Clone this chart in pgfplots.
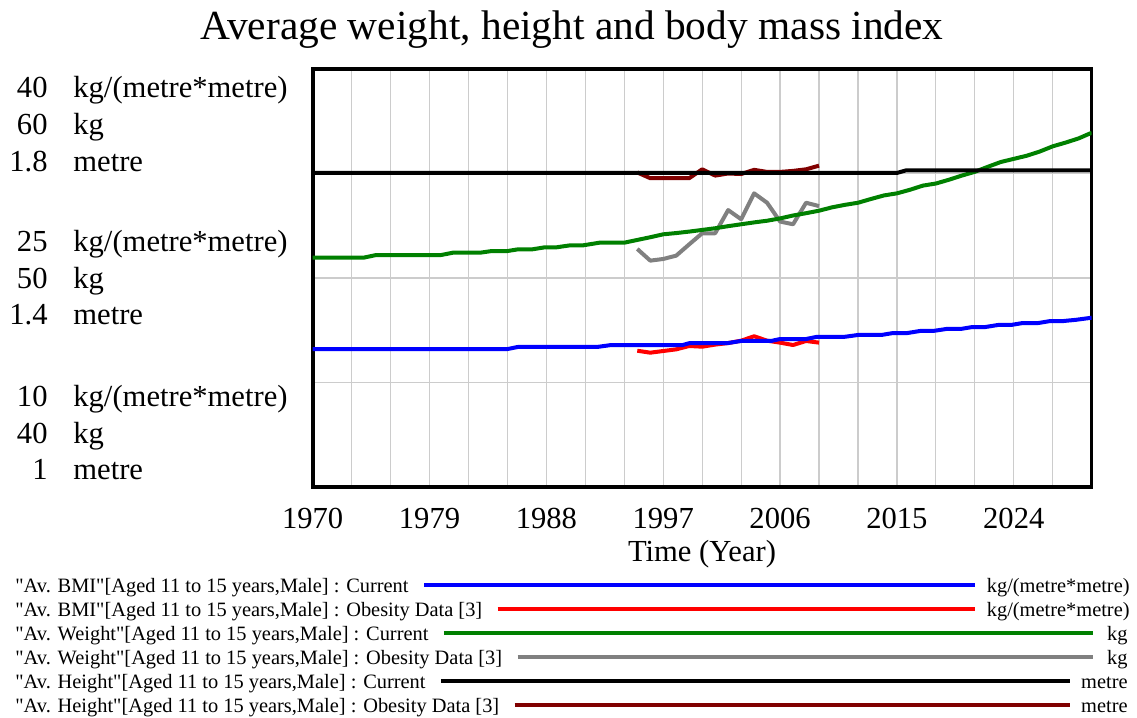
\documentclass[border=0pt]{standalone}
\usepackage{fontspec}
\setmainfont{Liberation Serif}[Ligatures=TeXOff]
\usepackage{pgfplots}
\pgfplotsset{compat=1.18}

\definecolor{gridgray}{RGB}{204,204,204}
\definecolor{vdarkred}{RGB}{128,0,0}
\definecolor{vgreen}{RGB}{0,128,0}
\definecolor{vgray}{RGB}{128,128,128}
\definecolor{vblue}{RGB}{0,0,255}
\definecolor{vred}{RGB}{255,0,0}

\newcommand{\tickfont}{\fontsize{15.3}{18}\selectfont}
\newcommand{\legfont}{\fontsize{10.2}{12}\selectfont}
\newcommand{\q}{\symbol{34}}

\pgfplotsset{
  myaxis/.style={
    at={(156.35pt,115.5pt)}, anchor=south west, scale only axis,
    width=389.5pt, height=209pt, xmin=1970, xmax=2030,
  },
  dline/.style={line width=2pt, line join=round, no markers},
}

\begin{document}
\begin{tikzpicture}[x=0.5pt,y=0.5pt]
\useasboundingbox (0,0) rectangle (1137,718);

% ---------------- BMI axis (with grid and frame) ----------------
\begin{axis}[myaxis, ymin=10, ymax=40,
  xtick={1970,1973,...,2030},
  xticklabels={1970,,,1979,,,1988,,,1997,,,2006,,,2015,,,2024,,,},
  ytick={10,17.5,25,32.5,40}, yticklabels={},
  grid=major, major grid style={gridgray, line width=0.6pt},
  axis line style={line width=1.8pt},
  major tick length=0pt,
  xticklabel style={font=\tickfont, anchor=base, yshift=-21pt},
]
\addplot[dline, vred] coordinates {
(1995,19.78) (1996,19.64) (1997,19.76) (1998,19.88) (1999,20.12) (2000,20.07)
(2001,20.22) (2002,20.33) (2003,20.50) (2004,20.82) (2005,20.50) (2006,20.36)
(2007,20.19) (2008,20.48) (2009,20.36)};
\addplot[dline, vblue] coordinates {
(1970,19.90) (1985,19.90) (1985.8,20.05) (1991.9,20.05) (1993,20.19) (1998.5,20.19)
(1999,20.32) (2001.9,20.32) (2003,20.48) (2005.3,20.48) (2006,20.62) (2008,20.62)
(2008.8,20.77) (2010.9,20.77) (2012,20.91) (2013.8,20.91) (2014.7,21.05) (2015.8,21.05)
(2016.8,21.20) (2017.8,21.20) (2018.8,21.34) (2019.9,21.34) (2020.8,21.48) (2021.8,21.48)
(2022.8,21.63) (2023.8,21.63) (2024.7,21.77) (2025.9,21.77) (2026.8,21.91) (2027.8,21.91)
(2028.8,22.00) (2030,22.15)};
\end{axis}

% ---------------- Weight axis ----------------
\begin{axis}[myaxis, ymin=40, ymax=60, hide axis]
\addplot[dline, vgray] coordinates {
(1995,51.39) (1996,50.83) (1997,50.91) (1998,51.07) (1999,51.61) (2000,52.14)
(2001,52.14) (2002,53.25) (2003,52.81) (2004,54.05) (2005,53.60) (2006,52.70)
(2007,52.57) (2008,53.60) (2009,53.44)};
\addplot[dline, vgreen] coordinates {
(1970,50.97) (1973.9,50.97) (1974.9,51.10) (1979.9,51.10) (1980.8,51.21) (1982.9,51.21)
(1983.8,51.29) (1985,51.29) (1985.8,51.37) (1986.9,51.37) (1987.9,51.47) (1988.8,51.47)
(1989.8,51.56) (1990.8,51.56) (1992.1,51.69) (1994,51.69) (1995,51.82) (1996,51.95)
(1997,52.09) (1998,52.15) (1999,52.22) (2000,52.30) (2001,52.38) (2002,52.48)
(2003,52.57) (2004,52.66) (2005,52.74) (2006,52.85) (2007,52.99) (2008,53.10)
(2009,53.22) (2010,53.38) (2011,53.50) (2012,53.60) (2013,53.78) (2014,53.95)
(2015,54.05) (2016,54.22) (2017,54.42) (2018,54.52) (2019,54.70) (2020,54.90)
(2021,55.08) (2022,55.32) (2023,55.55) (2024,55.70) (2025,55.85) (2026,56.05)
(2027,56.30) (2028,56.48) (2029,56.68) (2030,56.95)};
\end{axis}

% ---------------- Height axis ----------------
\begin{axis}[myaxis, ymin=1, ymax=1.8, hide axis]
\addplot[dline, vdarkred] coordinates {
(1995,1.602) (1996,1.591) (1997,1.591) (1998,1.591) (1999,1.591) (2000,1.608)
(2001,1.596) (2002,1.600) (2003,1.599) (2004,1.607) (2005,1.603) (2006,1.603)
(2007,1.605) (2008,1.608) (2009,1.615)};
\addplot[dline, black] coordinates {
(1970,1.601) (2015,1.601) (2015.7,1.606) (2030,1.606)};
\end{axis}

% ---------------- Title and axis labels ----------------
\node[anchor=base, inner sep=0, font=\fontsize{20.7}{24}\selectfont] at (572,678)
  {Average weight, height and body mass index};
\node[anchor=base, inner sep=0, font=\tickfont] at (702,156) {Time (Year)};

% y labels (numbers right aligned, units left aligned)
\begin{scope}[every node/.style={inner sep=0, font=\tickfont}]
\node[anchor=base east] at (48,620)   {40};
\node[anchor=base west] at (73,620)   {kg/(metre*metre)};
\node[anchor=base east] at (48,583.3) {60};
\node[anchor=base west] at (73,583.3) {kg};
\node[anchor=base east] at (48,546.6) {1.8};
\node[anchor=base west] at (73,546.6) {metre};
\node[anchor=base east] at (48,466.5) {25};
\node[anchor=base west] at (73,466.5) {kg/(metre*metre)};
\node[anchor=base east] at (48,429.8) {50};
\node[anchor=base west] at (73,429.8) {kg};
\node[anchor=base east] at (48,393)   {1.4};
\node[anchor=base west] at (73,393)   {metre};
\node[anchor=base east] at (48,311.5) {10};
\node[anchor=base west] at (73,311.5) {kg/(metre*metre)};
\node[anchor=base east] at (48,274.8) {40};
\node[anchor=base west] at (73,274.8) {kg};
\node[anchor=base east] at (48,238)   {1};
\node[anchor=base west] at (73,238)   {metre};
\end{scope}

% ---------------- Legend ----------------
\begin{scope}[every node/.style={inner sep=0, font=\legfont}]
\node[anchor=base west] (l1) at (15,125) {\q Av. BMI\q[Aged 11 to 15 years,Male] : Current};
\draw[vblue, line width=2pt] ([xshift=7.5pt,yshift=4pt]l1.base east) -- (975,133);
\node[anchor=base east] at (1130,125) {kg/(metre*metre)};

\node[anchor=base west] (l2) at (15,101) {\q Av. BMI\q[Aged 11 to 15 years,Male] : Obesity Data [3]};
\draw[vred, line width=2pt] ([xshift=7.5pt,yshift=4pt]l2.base east) -- (975,109);
\node[anchor=base east] at (1130,101) {kg/(metre*metre)};

\node[anchor=base west] (l3) at (15,77) {\q Av. Weight\q[Aged 11 to 15 years,Male] : Current};
\draw[vgreen, line width=2pt] ([xshift=7.5pt,yshift=4pt]l3.base east) -- (1093,85);
\node[anchor=base east] at (1128,77) {kg};

\node[anchor=base west] (l4) at (15,53) {\q Av. Weight\q[Aged 11 to 15 years,Male] : Obesity Data [3]};
\draw[vgray, line width=2pt] ([xshift=7.5pt,yshift=4pt]l4.base east) -- (1093,61);
\node[anchor=base east] at (1128,53) {kg};

\node[anchor=base west] (l5) at (15,29) {\q Av. Height\q[Aged 11 to 15 years,Male] : Current};
\draw[black, line width=2pt] ([xshift=7.5pt,yshift=4pt]l5.base east) -- (1070,37);
\node[anchor=base east] at (1128,29) {metre};

\node[anchor=base west] (l6) at (15,5) {\q Av. Height\q[Aged 11 to 15 years,Male] : Obesity Data [3]};
\draw[vdarkred, line width=2pt] ([xshift=7.5pt,yshift=4pt]l6.base east) -- (1070,13);
\node[anchor=base east] at (1128,5) {metre};
\end{scope}

\end{tikzpicture}
\end{document}
